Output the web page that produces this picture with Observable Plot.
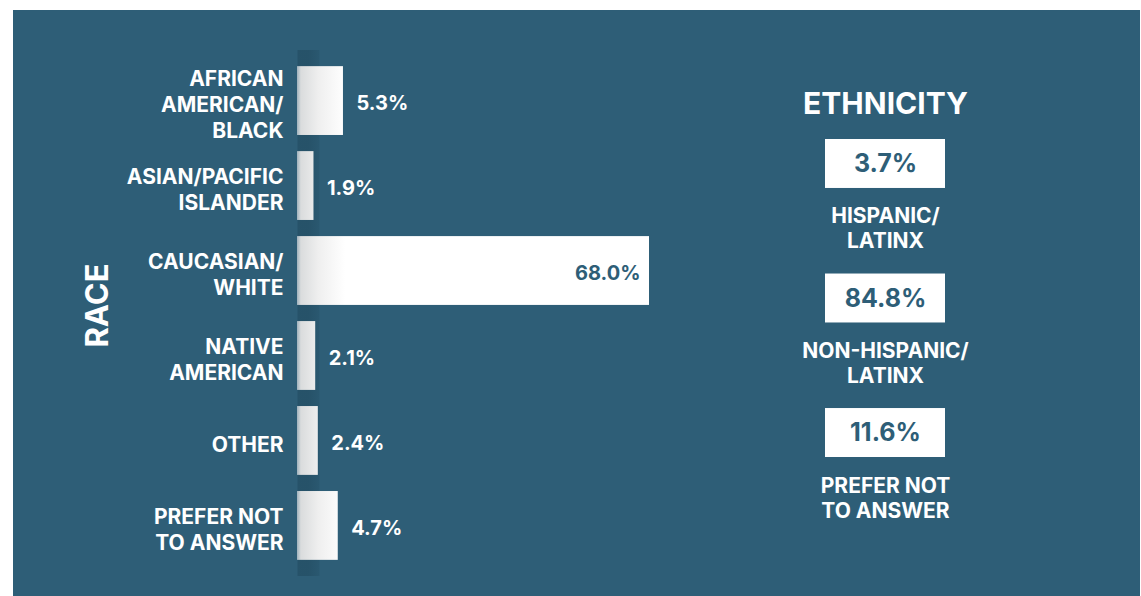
<!DOCTYPE html>
<html><head><meta charset="utf-8">
<script src="https://cdn.jsdelivr.net/npm/d3@7"></script>
<script src="https://cdn.jsdelivr.net/npm/@observablehq/plot@0.6"></script>
<style>
html,body{margin:0;padding:0;background:#fff;width:1141px;height:596px;overflow:hidden}
#panel{position:absolute;left:13px;top:10px;width:1127px;height:586px;background:#2e5e77}
#race{position:absolute;left:0;top:0;width:700px;height:586px}
#eth{position:absolute;left:757px;top:0;width:230px;height:586px}
</style></head>
<body><div id="panel"><div id="race"></div><div id="eth"></div></div>
<script>
const TEAL = "#2e5e77";
const FONT = "Inter, 'Open Sans', 'DejaVu Sans', sans-serif";

// Race data
const raceCategories = ["African American/Black", "Asian/Pacific Islander", "Caucasian/White", "Native American", "Other", "Prefer not to answer"];
const raceLabels = ["AFRICAN\nAMERICAN/\nBLACK", "ASIAN/PACIFIC\nISLANDER", "CAUCASIAN/\nWHITE", "NATIVE\nAMERICAN", "OTHER", "PREFER NOT\nTO ANSWER"];
const raceValues = [5.3, 1.9, 68.0, 2.1, 2.4, 4.7];

// Ethnicity data
const ethCategories = ["Hispanic/Latinx", "Non-Hispanic/Latinx", "Prefer not to answer"];
const ethLabels = ["HISPANIC/\nLATINX", "NON-HISPANIC/\nLATINX", "PREFER NOT\nTO ANSWER"];
const ethValues = [3.7, 84.8, 11.6];

const raceData = raceCategories.map((c, i) => ({category: c, label: raceLabels[i], value: raceValues[i]}));
const ethData = ethCategories.map((c, i) => ({category: c, label: ethLabels[i], value: ethValues[i]}));
const fmt = v => v.toFixed(1) + "%";

// the original chart uses a broken (compressed) axis above ~6%
const BREAK = 6, COMPRESS = 0.558;
const brokenAxis = v => v <= BREAK ? v : BREAK + (v - BREAK) * COMPRESS;

const race = Plot.plot({
  width: 700, height: 586,
  marginLeft: 284, marginRight: 64, marginTop: 40, marginBottom: 20,
  style: {background: "transparent", fontFamily: FONT},
  x: {transform: brokenAxis, axis: null},
  y: {type: "band", domain: raceCategories, padding: 0.19, round: false, axis: null},
  marks: [
    Plot.ruleX([0], {stroke: "url(#shadowGrad)", strokeWidth: 22, dx: 11}),
    Plot.barX(raceData, {x: "value", y: "category", fill: "url(#barGrad)"}),
    Plot.text(raceData, {x: 0, y: "category", text: "label", textAnchor: "end", dx: -14, dy: 3,
      fill: "white", fontSize: 21, fontWeight: 700, lineHeight: 1.24}),
    Plot.text(raceData.filter(d => d.value < 30), {x: "value", y: "category", text: d => fmt(d.value),
      textAnchor: "start", dx: 13, dy: 3, fill: "white", fontSize: 20, fontWeight: 700}),
    Plot.text(raceData.filter(d => d.value >= 30), {x: "value", y: "category", text: d => fmt(d.value),
      textAnchor: "end", dx: -9, dy: 3, fill: TEAL, fontSize: 20, fontWeight: 700}),
    Plot.text(["RACE"], {frameAnchor: "left", textAnchor: "middle", lineAnchor: "middle",
      dx: -199, dy: -8, rotate: -90, fill: "white", fontSize: 31, fontWeight: 700})
  ]
});
const defs = d3.select(race).insert("defs", ":first-child");
const bg = defs.append("linearGradient").attr("id", "barGrad")
  .attr("gradientUnits", "userSpaceOnUse").attr("x1", 284).attr("x2", 332).attr("y1", 0).attr("y2", 0);
bg.append("stop").attr("offset", 0).attr("stop-color", "#9fb2bd");
bg.append("stop").attr("offset", 0.08).attr("stop-color", "#dadcdd");
bg.append("stop").attr("offset", 0.45).attr("stop-color", "#efefef");
bg.append("stop").attr("offset", 1).attr("stop-color", "#ffffff");
const sg = defs.append("linearGradient").attr("id", "shadowGrad")
  .attr("gradientUnits", "userSpaceOnUse").attr("x1", 284).attr("x2", 306).attr("y1", 0).attr("y2", 0);
sg.append("stop").attr("offset", 0).attr("stop-color", "#1d4458").attr("stop-opacity", 0.45);
sg.append("stop").attr("offset", 1).attr("stop-color", "#1d4458").attr("stop-opacity", 0);
document.getElementById("race").appendChild(race);

const eth = Plot.plot({
  width: 230, height: 586,
  marginLeft: 55, marginRight: 55, marginTop: 129, marginBottom: 139,
  style: {background: "transparent", fontFamily: FONT},
  x: {type: "band", domain: ["card"], padding: 0, round: false, axis: null},
  y: {type: "band", domain: ethCategories, paddingInner: 0.636, paddingOuter: 0, round: false, axis: null},
  marks: [
    Plot.cell(ethData, {x: () => "card", y: "category", fill: "white"}),
    Plot.text(ethData, {x: () => "card", y: "category", text: d => fmt(d.value),
      fill: TEAL, fontSize: 25, fontWeight: 700}),
    Plot.text(ethData, {x: () => "card", y: "category", text: "label", dy: 64,
      fill: "white", fontSize: 21, fontWeight: 700, lineHeight: 1.19}),
    Plot.text(["ETHNICITY"], {frameAnchor: "top", lineAnchor: "middle", dy: -35,
      fill: "white", fontSize: 30, fontWeight: 700})
  ]
});
document.getElementById("eth").appendChild(eth);
</script>
</body></html>
